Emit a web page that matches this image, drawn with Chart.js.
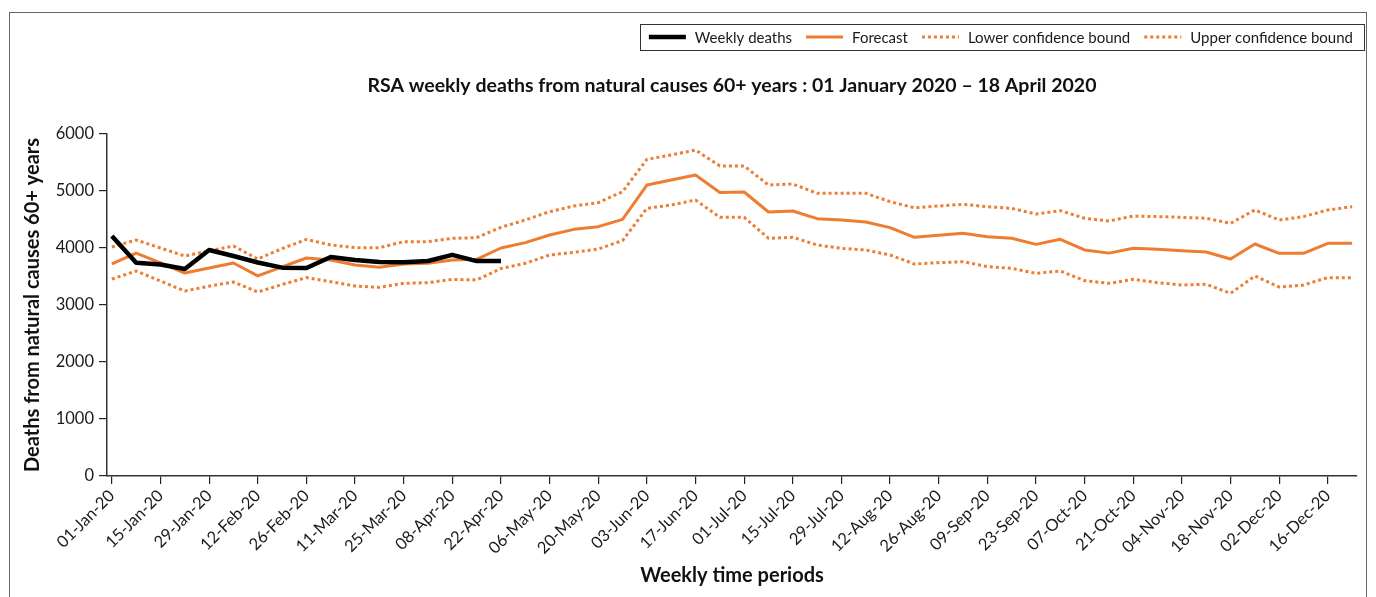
<!DOCTYPE html>
<html><head><meta charset="utf-8">
<script src="https://cdn.jsdelivr.net/npm/chart.js@4.4.1/dist/chart.umd.min.js"></script>
<style>
html,body{margin:0;padding:0;background:#fff;overflow:hidden}
#frame{position:absolute;left:9px;top:12px;width:1358px;height:600px;border:1.5px solid #666;box-sizing:border-box}
#wrap{position:absolute;left:0;top:0;width:1376px;height:597px}
</style></head><body>
<div id="frame"></div>
<div id="wrap"><canvas id="c" width="1376" height="597"></canvas></div>
<script>
const weekLabels = ['01-Jan-20','08-Jan-20','15-Jan-20','22-Jan-20','29-Jan-20','05-Feb-20','12-Feb-20','19-Feb-20','26-Feb-20','04-Mar-20','11-Mar-20','18-Mar-20','25-Mar-20','01-Apr-20','08-Apr-20','15-Apr-20','22-Apr-20','29-Apr-20','06-May-20','13-May-20','20-May-20','27-May-20','03-Jun-20','10-Jun-20','17-Jun-20','24-Jun-20','01-Jul-20','08-Jul-20','15-Jul-20','22-Jul-20','29-Jul-20','05-Aug-20','12-Aug-20','19-Aug-20','26-Aug-20','02-Sep-20','09-Sep-20','16-Sep-20','23-Sep-20','30-Sep-20','07-Oct-20','14-Oct-20','21-Oct-20','28-Oct-20','04-Nov-20','11-Nov-20','18-Nov-20','25-Nov-20','02-Dec-20','09-Dec-20','16-Dec-20','23-Dec-20'];

const weeklyDeaths = [4211,3740,3710,3632,3965,3860,3745,3655,3650,3842,3790,3754,3749,3772,3880,3770,3770];

const forecast = [3720,3910,3740,3560,3650,3737,3510,3670,3825,3790,3702,3661,3719,3731,3790,3801,4000,4094,4228,4327,4374,4503,5105,5193,5281,4975,4982,4632,4649,4515,4491,4456,4357,4187,4222,4257,4199,4170,4064,4152,3965,3910,3994,3977,3953,3930,3807,4070,3906,3906,4082,4082];

const lowerBound = [3456,3596,3420,3246,3330,3404,3228,3360,3480,3409,3333,3310,3380,3392,3450,3439,3640,3731,3877,3924,3982,4130,4696,4754,4842,4538,4538,4170,4187,4053,3994,3965,3877,3719,3743,3760,3673,3643,3556,3596,3427,3380,3450,3392,3351,3363,3205,3509,3316,3351,3480,3480];

const upperBound = [4018,4140,4000,3860,3950,4035,3807,3990,4150,4053,4006,4006,4111,4111,4170,4182,4363,4491,4637,4737,4795,4988,5556,5632,5719,5439,5439,5105,5123,4959,4959,4959,4813,4705,4737,4766,4725,4696,4596,4655,4521,4474,4561,4550,4538,4521,4433,4667,4491,4550,4667,4725];

const yTicks = [0,1000,2000,3000,4000,5000,6000];
const seriesNames = ['Weekly deaths','Forecast','Lower confidence bound','Upper confidence bound'];

const ORANGE = '#EE7D31';
const toPts = arr => arr.map((v,i)=>({x:i,y:v}));

Chart.defaults.font.family = 'Lato';
Chart.defaults.color = '#1a1a1a';

const centerTitle = {
  id:'centerTitle',
  afterLayout(chart){
    if (chart.titleBlock) {
      chart.titleBlock.left = chart.chartArea.left;
      chart.titleBlock.right = chart.chartArea.right;
    }
  }
};

const boxLegend = {
  id:'boxLegend',
  afterDraw(chart){
    const ctx = chart.ctx;
    ctx.save();
    ctx.font = '15px Lato';
    const sample = 37, gap = 9, itemGap = 14, rightEnd = 1353, cy = 37;
    const items = chart.data.datasets.map(d=>({d, w: ctx.measureText(d.label).width}));
    let total = items.reduce((s,it)=>s+sample+gap+it.w,0) + itemGap*(items.length-1);
    let x = rightEnd - total;
    ctx.strokeStyle = '#333'; ctx.lineWidth = 1; ctx.setLineDash([]);
    ctx.strokeRect(Math.round(x-9)+0.5, 24.5, Math.round(rightEnd+11 - (x-9)), 26);
    items.forEach(it=>{
      const d = it.d;
      ctx.beginPath();
      ctx.strokeStyle = d.borderColor; ctx.lineWidth = d.borderWidth;
      ctx.setLineDash(d.borderDash || []);
      ctx.lineCap = 'butt';
      ctx.moveTo(x, cy); ctx.lineTo(x+sample, cy); ctx.stroke();
      ctx.setLineDash([]);
      ctx.fillStyle = '#1a1a1a'; ctx.textBaseline = 'middle'; ctx.textAlign = 'left';
      ctx.fillText(d.label, x+sample+gap, cy+1);
      x += sample + gap + it.w + itemGap;
    });
    ctx.restore();
  }
};

new Chart(document.getElementById('c'), {
  type:'line',
  data:{
    datasets:[
      {label:seriesNames[0], data:toPts(weeklyDeaths), borderColor:'#000', borderWidth:4.5, pointRadius:0, tension:0, borderJoinStyle:'round'},
      {label:seriesNames[1], data:toPts(forecast), borderColor:ORANGE, borderWidth:3, pointRadius:0, tension:0, borderJoinStyle:'round'},
      {label:seriesNames[2], data:toPts(lowerBound), borderColor:ORANGE, borderWidth:3, borderDash:[3,3], pointRadius:0, tension:0},
      {label:seriesNames[3], data:toPts(upperBound), borderColor:ORANGE, borderWidth:3, borderDash:[3,3], pointRadius:0, tension:0}
    ]
  },
  options:{
    responsive:false, animation:false, devicePixelRatio:1,
    layout:{padding:{left:0,right:19,top:58,bottom:0}},
    plugins:{
      legend:{display:false},
      tooltip:{enabled:false},
      title:{display:true, text:'RSA weekly deaths from natural causes 60+ years : 01 January 2020 \u2013 18 April 2020',
        font:{size:19.5, weight:'bold'}, color:'#111', padding:{top:16.3,bottom:36.3}}
    },
    scales:{
      x:{type:'linear', min:-0.2, max:51.2,
        afterBuildTicks(s){ s.ticks = weekLabels.map((l,i)=>i).filter(i=>i%2===0).map(i=>({value:i})); },
        afterFit(s){ s.height = 121; },
        grid:{drawOnChartArea:false, drawTicks:true, tickLength:8, color:'#222', lineWidth:1.2},
        border:{color:'#333', width:1.5},
        ticks:{autoSkip:false, minRotation:45, maxRotation:45, padding:2, font:{size:16.5}, color:'#1a1a1a',
          callback:(v)=>weekLabels[v]},
        title:{display:true, text:'Weekly time periods', font:{size:20, weight:'bold'}, color:'#111', padding:{top:4,bottom:9}}
      },
      y:{min:0, max:6000,
        afterBuildTicks(s){ s.ticks = yTicks.map(v=>({value:v})); },
        afterFit(s){ s.width = 107; },
        grid:{drawOnChartArea:false, drawTicks:true, tickLength:8, color:'#222', lineWidth:1.2},
        border:{color:'#333', width:1.5},
        ticks:{padding:5, font:{size:16.5}, color:'#1a1a1a', callback:(v)=>String(v)},
        title:{display:true, text:'Deaths from natural causes 60+ years', font:{size:20, weight:'bold'}, color:'#111', padding:{top:21,bottom:0}}
      }
    }
  },
  plugins:[centerTitle, boxLegend]
});
</script>
</body></html>
